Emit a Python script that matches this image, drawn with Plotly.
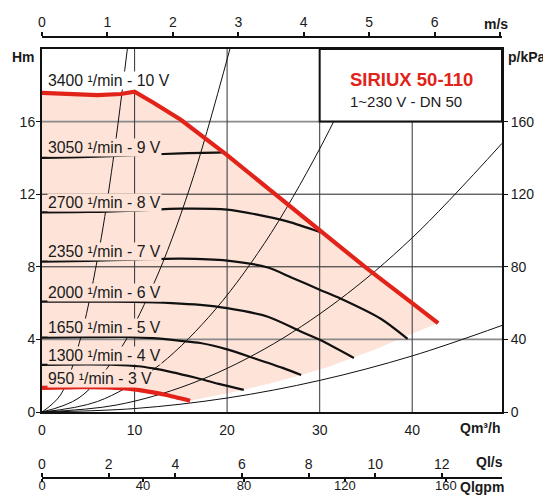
import plotly.graph_objects as go

# ---------------- data ----------------
Q_AXIS_MAX = 49.7          # m3/h at right edge
H_AXIS_MAX = 20.0          # m at top edge

Q_TICKS = [0, 10, 20, 30, 40]
H_TICKS = [0, 4, 8, 12, 16]
P_TICKS = [0, 40, 80, 120, 160]
V_TICKS = [0, 1, 2, 3, 4, 5, 6, 7]
LS_TICKS = [0, 2, 4, 6, 8, 10, 12]
GPM_TICKS = [0, 40, 80, 120, 160]

# max curve (3400 1/min - 10 V, red)
Q_MAX = [0, 3, 6, 8.5, 10, 12, 15, 20, 25, 30, 35, 40, 42.8]
H_MAX = [17.58, 17.5, 17.46, 17.52, 17.65, 17.05, 16.1, 14.15, 12.1, 10.0, 7.95, 6.0, 4.9]
# min curve (950 1/min - 3 V, red)
Q_MIN = [0, 4, 7, 9, 10.4, 12, 13.3, 16]
H_MIN = [1.33, 1.37, 1.36, 1.3, 1.22, 1.08, 0.95, 0.62]
# lower limit of the operating area
Q_LOW = [16, 19.1, 21.8, 25, 28, 31, 33.6, 36, 38.8, 42.8]
H_LOW = [0.62, 0.94, 1.22, 1.62, 2.04, 2.5, 3.0, 3.45, 4.06, 4.9]

# intermediate speed curves
Q_9V = [0, 5, 10, 15, 19.6]
H_9V = [14.0, 14.05, 14.15, 14.25, 14.3]
Q_8V = [0, 5, 10, 15, 20, 23, 26.5, 30.1]
H_8V = [11.0, 11.02, 11.1, 11.2, 11.15, 10.9, 10.5, 9.9]
Q_7V = [0, 5, 10, 15, 20, 24.4, 27, 30, 32.3, 36.6, 39.5]
H_7V = [8.29, 8.33, 8.4, 8.45, 8.34, 7.96, 7.4, 6.74, 6.24, 5.14, 4.03]
Q_6V = [0, 5, 10, 14, 17.1, 20, 24.4, 27.9, 30, 33.7]
H_6V = [6.08, 6.08, 6.06, 6.0, 5.9, 5.72, 5.25, 4.45, 3.98, 2.98]
Q_5V = [0, 5, 9.5, 12, 15, 17.1, 20, 23, 26, 28]
H_5V = [4.1, 4.12, 4.13, 4.07, 3.92, 3.8, 3.45, 2.95, 2.43, 2.04]
Q_4V = [0, 5, 8, 10.4, 12, 14, 16.5, 19.1, 21.8]
H_4V = [2.6, 2.62, 2.6, 2.52, 2.4, 2.2, 1.9, 1.55, 1.22]

SPEED_LABELS = ["3400 \u00b9/min - 10 V", "3050 \u00b9/min - 9 V", "2700 \u00b9/min - 8 V",
                "2350 \u00b9/min - 7 V", "2000 \u00b9/min - 6 V", "1650 \u00b9/min - 5 V",
                "1300 \u00b9/min - 4 V", "950 \u00b9/min - 3 V"]

# system curves
SYS1_Q = [0, 2, 4, 6, 7.5, 9.22]
SYS1_H = [0, 0.94, 3.76, 8.46, 13.2, 20.0]
SYS2_Q = [0, 4, 8, 12, 16, 20.3]
SYS2_H = [0, 0.78, 3.1, 6.98, 12.4, 20.0]
SYS3_Q = [0, 6, 12, 18, 24, 30, 35.2]
SYS3_H = [0, 0.58, 2.32, 5.22, 9.27, 14.5, 19.95]
SYS4_Q = [0, 8, 16, 24, 32, 40, 49.7]
SYS4_H = [0, 0.38, 1.54, 3.46, 6.14, 9.6, 14.8]
SYS5_Q = [0, 10, 20, 30, 40, 49.7]
SYS5_H = [0, 0.19, 0.77, 1.74, 3.09, 4.77]

TITLE = "SIRIUX 50-110"
SUBTITLE = "1~230 V - DN 50"

# unit conversions for secondary scales
M3H_PER_MS = 7.0686        # DN 50
M3H_PER_LS = 3.6
GPM_PER_LS = 13.198        # imperial gpm

# ---------------- style ----------------
RED = "#e2231a"
PINK = "#fde3d8"
TXT = "#1a1a1a"
FONT = "Liberation Sans, Arial, Helvetica, sans-serif"

# page has an 8 px body margin; plot area spans screen x 42..502, paper spans screen y 37..478
def px_x(x):
    return (x - 42) / 460.0

def px_y(y):
    return (478 - y) / 441.0

fig = go.Figure()

# operating area
fig.add_trace(go.Scatter(
    x=Q_MAX + Q_LOW[::-1] + Q_MIN[::-1],
    y=H_MAX + H_LOW[::-1] + H_MIN[::-1],
    fill="toself", fillcolor=PINK, mode="lines", line=dict(width=0),
    hoverinfo="skip", showlegend=False))

# grid lines (drawn over the area)
h_grid_style = {4: ("#8a8a8a", 1.6), 8: ("#222222", 1.0), 12: ("#222222", 1.0), 16: ("#8a8a8a", 1.6)}
for h in H_TICKS[1:]:
    c, w = h_grid_style[h]
    fig.add_trace(go.Scatter(x=[0, Q_AXIS_MAX], y=[h, h], mode="lines",
                             line=dict(color=c, width=w), hoverinfo="skip", showlegend=False))
for q in Q_TICKS[1:]:
    fig.add_trace(go.Scatter(x=[q, q], y=[0, H_AXIS_MAX], mode="lines",
                             line=dict(color="#444444", width=1.1), hoverinfo="skip", showlegend=False))

# system curves
for sq, sh in [(SYS1_Q, SYS1_H), (SYS2_Q, SYS2_H), (SYS3_Q, SYS3_H), (SYS4_Q, SYS4_H), (SYS5_Q, SYS5_H)]:
    fig.add_trace(go.Scatter(x=sq, y=sh, mode="lines",
                             line=dict(color="#111111", width=1, shape="spline", smoothing=1.0),
                             hoverinfo="skip", showlegend=False))

# speed curves
for sq, sh in [(Q_9V, H_9V), (Q_8V, H_8V), (Q_7V, H_7V), (Q_6V, H_6V), (Q_5V, H_5V), (Q_4V, H_4V)]:
    fig.add_trace(go.Scatter(x=sq, y=sh, mode="lines",
                             line=dict(color="#111111", width=2.2, shape="spline", smoothing=0.8),
                             hoverinfo="skip", showlegend=False))

# red max / min
fig.add_trace(go.Scatter(x=Q_MAX, y=H_MAX, mode="lines", line=dict(color=RED, width=4.2),
                         hoverinfo="skip", showlegend=False))
fig.add_trace(go.Scatter(x=Q_MIN, y=H_MIN, mode="lines",
                         line=dict(color=RED, width=4.2, shape="spline", smoothing=0.8),
                         hoverinfo="skip", showlegend=False))

# dummy traces so every secondary axis is drawn
for xa, ya in [("x2", "y"), ("x3", "y"), ("x4", "y"), ("x", "y2")]:
    fig.add_trace(go.Scatter(x=[0], y=[0], xaxis=xa, yaxis=ya, mode="markers",
                             marker=dict(opacity=0), hoverinfo="skip", showlegend=False))

# title box
fig.add_shape(type="rect", xref="x", yref="y", x0=Q_TICKS[3], x1=Q_AXIS_MAX, y0=H_TICKS[4], y1=H_AXIS_MAX,
              line=dict(color="#111111", width=2), fillcolor="white", layer="above")

annotations = []
label_y = [81, 147.5, 202.5, 251.5, 292.5, 327.5, 355.5, 378]
for i, (txt, yc) in enumerate(zip(SPEED_LABELS, label_y)):
    annotations.append(dict(text=txt, xref="paper", yref="paper", x=px_x(47), y=px_y(yc),
                            xanchor="left", yanchor="middle", showarrow=False,
                            bgcolor="white" if i == 0 else PINK, borderpad=0,
                            font=dict(family=FONT, size=15.8, color=TXT)))

annotations.append(dict(text="<b>%s</b>" % TITLE, xref="paper", yref="paper", x=px_x(348), y=px_y(79),
                        xanchor="left", yanchor="middle", showarrow=False,
                        font=dict(family=FONT, size=18.5, color=RED)))
annotations.append(dict(text=SUBTITLE, xref="paper", yref="paper", x=px_x(348), y=px_y(101.5),
                        xanchor="left", yanchor="middle", showarrow=False,
                        font=dict(family=FONT, size=15, color=TXT)))

unit_labels = [("Hm", 23, 57), ("p/kPa", 527, 57), ("m/s", 496, 24),
               ("Qm\u00b3/h", 480, 428), ("Ql/s", 489, 462), ("Qlgpm", 482, 487)]
for txt, xc, yc in unit_labels:
    annotations.append(dict(text="<b>%s</b>" % txt, xref="paper", yref="paper", x=px_x(xc), y=px_y(yc),
                            xanchor="center", yanchor="middle", showarrow=False,
                            font=dict(family=FONT, size=14, color=TXT)))

tickfont = dict(family=FONT, size=14, color=TXT)
y_dom = [px_y(412), px_y(49)]

fig.update_layout(
    width=543, height=487,
    margin=dict(l=34, r=49, t=29, b=17),
    paper_bgcolor="white", plot_bgcolor="white",
    showlegend=False,
    annotations=annotations,
    xaxis=dict(range=[0, Q_AXIS_MAX], domain=[0, 1], anchor="y", tickvals=Q_TICKS,
               showline=True, linecolor="#111111", linewidth=2, mirror=True,
               showgrid=False, zeroline=False, ticks="outside", ticklen=4,
               tickcolor="rgba(0,0,0,0)", tickfont=tickfont, automargin=False),
    yaxis=dict(range=[0, H_AXIS_MAX], domain=y_dom, anchor="x", tickvals=H_TICKS,
               showline=True, linecolor="#111111", linewidth=2, mirror=True,
               showgrid=False, zeroline=False, ticks="outside", ticklen=4, tickwidth=1,
               tickcolor="#111111", ticklabelstandoff=-2, tickfont=tickfont, automargin=False),
    yaxis2=dict(range=[0, H_AXIS_MAX * 10], overlaying="y", side="right", anchor="x",
                tickvals=P_TICKS, showline=True, linecolor="#111111", linewidth=2,
                showgrid=False, zeroline=False, ticks="outside", ticklen=4, tickwidth=1,
                tickcolor="#111111", tickfont=tickfont, automargin=False),
    xaxis2=dict(range=[0, Q_AXIS_MAX / M3H_PER_MS], overlaying="x", anchor="free", position=1,
                side="top", tickvals=V_TICKS, ticktext=[str(v) for v in V_TICKS[:-1]] + [""],
                showline=True, linecolor="#111111", linewidth=1.5, showgrid=False, zeroline=False,
                ticks="outside", ticklen=4, tickwidth=1.5, tickcolor="#111111",
                ticklabelstandoff=0, tickfont=tickfont, automargin=False),
    xaxis3=dict(range=[0, Q_AXIS_MAX / M3H_PER_LS], overlaying="x", anchor="free", position=0,
                side="top", tickvals=LS_TICKS,
                showline=True, linecolor="#111111", linewidth=1.5, showgrid=False, zeroline=False,
                ticks="outside", ticklen=4, tickwidth=1.5, tickcolor="#111111",
                ticklabelstandoff=-1, tickfont=tickfont, automargin=False),
    xaxis4=dict(range=[0, Q_AXIS_MAX / M3H_PER_LS * GPM_PER_LS], overlaying="x", anchor="free",
                position=0, side="bottom", tickvals=GPM_TICKS,
                showline=True, linecolor="#111111", linewidth=1.5, showgrid=False, zeroline=False,
                ticks="outside", ticklen=3, tickwidth=1.5, tickcolor="#111111",
                ticklabelstandoff=-7, tickfont=dict(family=FONT, size=13, color=TXT),
                automargin=False),
)

fig.write_html("out.html")
